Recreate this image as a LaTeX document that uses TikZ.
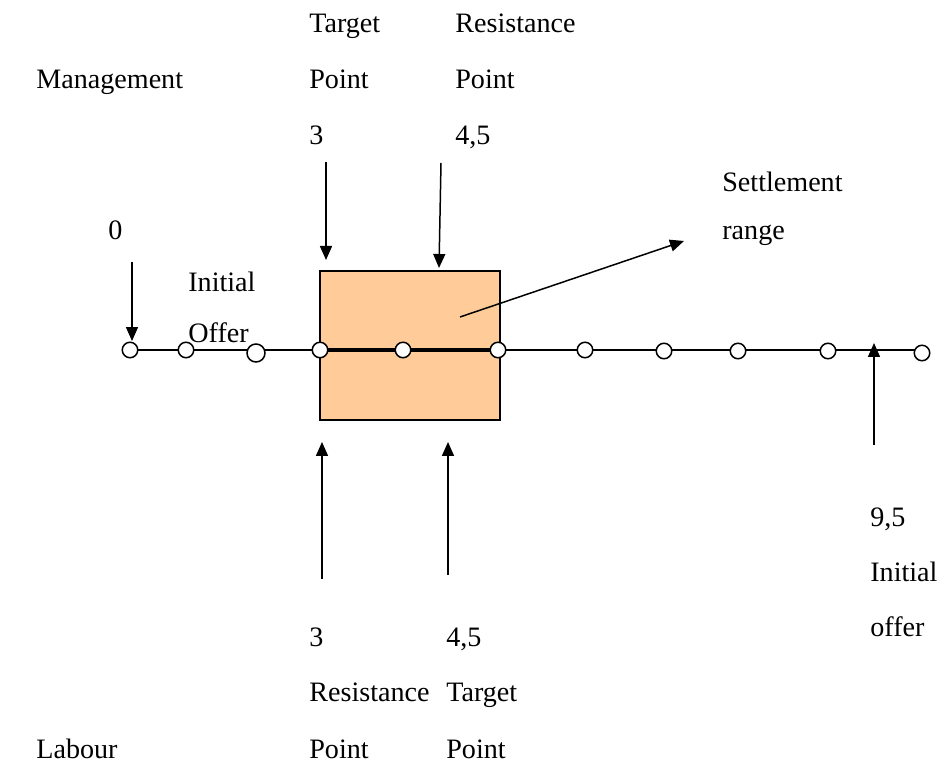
\documentclass[tikz,border=0pt]{standalone}
\usepackage{fontspec}
\setmainfont{Liberation Serif}
\usetikzlibrary{arrows.meta}
\definecolor{boxfill}{HTML}{FFCC99}
\begin{document}
\begin{tikzpicture}[x=0.02cm,y=-0.02cm,
  lbl/.style={anchor=base west,inner sep=0pt,font=\fontsize{16}{19}\selectfont},
  dot/.style={circle,draw,fill=white,line width=0.85pt,minimum size=0.31cm,inner sep=0pt},
  bigdot/.style={dot,minimum size=0.36cm},
  arr/.style={line width=0.85pt,-{Triangle[length=0.28cm,width=0.24cm]}},
  axis/.style={line width=0.85pt}]
\useasboundingbox (0,0) rectangle (944,763);
% settlement box
\node[draw,fill=boxfill,line width=0.85pt,minimum width=3.6cm,minimum height=2.98cm,inner sep=0pt] (box) at (410,345.5) {};
% line of points
\coordinate (p1) at (130,350);
\coordinate (p2) at (186,350);
\coordinate (p3) at (256,353);
\coordinate (p4) at (320,350);
\coordinate (p5) at (403,350);
\coordinate (p6) at (498,350);
\coordinate (p7) at (585,350);
\coordinate (p8) at (664,351);
\coordinate (p9) at (738,351);
\coordinate (p10) at (828,351);
\coordinate (p11) at (922,353);
\coordinate (lineL) at (130,350);
\coordinate (lineR) at (922,350);
\draw[axis] (lineL) -- (lineR);
\draw[line width=1.8pt] (p4) -- (p6);
\node[dot] (c1) at (p1) {};
\node[dot] (c2) at (p2) {};
\node[bigdot] (c3) at (p3) {};
\node[dot] (c4) at (p4) {};
\node[dot] (c5) at (p5) {};
\node[dot] (c6) at (p6) {};
\node[dot] (c7) at (p7) {};
\node[dot] (c8) at (p8) {};
\node[dot] (c9) at (p9) {};
\node[dot] (c10) at (p10) {};
\node[dot] (c11) at (p11) {};
% arrows
\coordinate (a0s) at (132,262); \coordinate (a0e) at (132,341);
\draw[arr] (a0s) -- (a0e);
\coordinate (tps) at (326,162); \coordinate (tpe) at (326,260);
\draw[arr] (tps) -- (tpe);
\coordinate (rps) at (441,163); \coordinate (rpe) at (439,268);
\draw[arr] (rps) -- (rpe);
\coordinate (srs) at (460,317); \coordinate (sre) at (684,241);
\draw[arr] (srs) -- (sre);
\coordinate (brs) at (322,579); \coordinate (bre) at (322,442);
\draw[arr] (brs) -- (bre);
\coordinate (bts) at (448,575); \coordinate (bte) at (448,442);
\draw[arr] (bts) -- (bte);
\coordinate (ios) at (874,445); \coordinate (ioe) at (874,343);
\draw[arr] (ios) -- (ioe);
% labels
\node[lbl] (mg) at (36,89) {Management};
\node[lbl] (t1) at (309,33) {Target};
\node[lbl] (t2) at (309,89) {Point};
\node[lbl] (t3) at (309,145) {3};
\node[lbl] (r1) at (455,33) {Resistance};
\node[lbl] (r2) at (455,89) {Point};
\node[lbl] (r3) at (455,145) {4,5};
\node[lbl] (zero) at (108,240) {0};
\node[lbl] (s1) at (722,192) {Settlement};
\node[lbl] (s2) at (722,240) {range};
\node[lbl] (i1) at (188,292) {Initial};
\node[lbl] (i2) at (188,343) {Offer};
\node[lbl] (n1) at (870,527) {9,5};
\node[lbl] (n2) at (870,582) {Initial};
\node[lbl] (n3) at (870,637) {offer};
\node[lbl] (b1) at (309,646) {3};
\node[lbl] (b2) at (446,646) {4,5};
\node[lbl] (b3) at (309,702) {Resistance};
\node[lbl] (b4) at (446,702) {Target};
\node[lbl] (lb) at (36,758) {Labour};
\node[lbl] (b5) at (309,758) {Point};
\node[lbl] (b6) at (446,758) {Point};
\end{tikzpicture}
\end{document}
